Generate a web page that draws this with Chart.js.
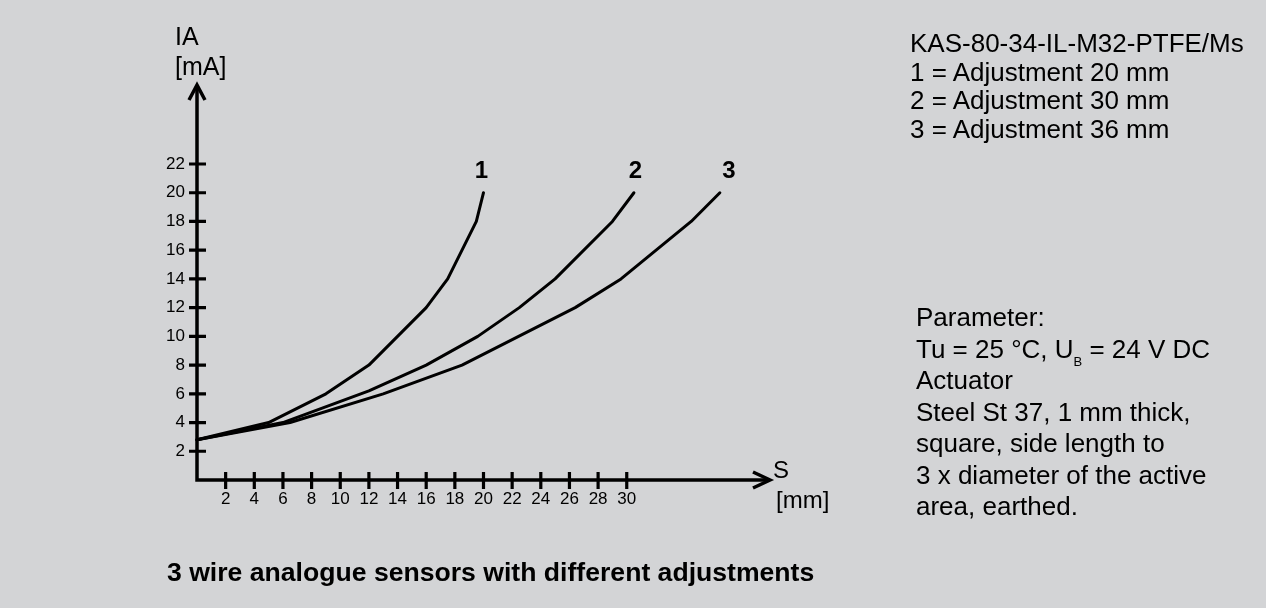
<!DOCTYPE html>
<html>
<head>
<meta charset="utf-8">
<script src="https://cdn.jsdelivr.net/npm/chart.js@4/dist/chart.umd.min.js"></script>
<style>
  html, body { margin: 0; padding: 0; background: #d3d4d6; }
  body { width: 1266px; height: 608px; position: relative; overflow: hidden;
         font-family: "Liberation Sans", Arial, sans-serif; color: #000; }
  #wrap { position: absolute; left: 0; top: 0; width: 1266px; height: 608px; }
  .note { position: absolute; font-size: 26px; white-space: nowrap; }
  #typeNote { left: 910px; top: 29px; line-height: 28.7px; }
  #paramNote { left: 916px; top: 302px; line-height: 31.5px; }
  #caption { left: 167px; top: 557px; line-height: 30px; font-weight: bold; font-size: 26.6px; }
  sub { font-size: 13px; vertical-align: -8px; line-height: 0; }
</style>
</head>
<body>
<div id="wrap"><canvas id="chart"></canvas></div>

<div class="note" id="typeNote">
  KAS-80-34-IL-M32-PTFE/Ms<br>
  1 = Adjustment 20 mm<br>
  2 = Adjustment 30 mm<br>
  3 = Adjustment 36 mm
</div>
<div class="note" id="paramNote">
  Parameter:<br>
  Tu = 25 °C, U<sub>B</sub> = 24 V DC<br>
  Actuator<br>
  Steel St 37, 1 mm thick,<br>
  square, side length to<br>
  3 x diameter of the active<br>
  area, earthed.
</div>
<div class="note" id="caption">3 wire analogue sensors with different adjustments</div>

<script>
// axis ticks (S in mm, IA in mA)
const sTicks = [2, 4, 6, 8, 10, 12, 14, 16, 18, 20, 22, 24, 26, 28, 30];
const iaTicks = [2, 4, 6, 8, 10, 12, 14, 16, 18, 20, 22];

// curve names
const curveNames = ['1', '2', '3'];

// curve 1 - adjustment 20 mm
const s1 = [0, 5, 9, 12, 14, 16, 17.5, 19.5, 20];
const ia1 = [2.8, 4, 6, 8, 10, 12, 14, 18, 20];

// curve 2 - adjustment 30 mm
const s2 = [0, 6, 12, 16, 19.6, 22.5, 25, 29, 30.5];
const ia2 = [2.8, 4, 6.2, 8, 10, 12, 14, 18, 20];

// curve 3 - adjustment 36 mm
const s3 = [0, 6.5, 13, 18.5, 26.4, 29.6, 34.5, 36.5];
const ia3 = [2.8, 4, 6, 8, 12, 14, 18, 20];

function toPoints(xs, ys) {
    return xs.map((v, i) => ({ x: v, y: ys[i] }));
}

Chart.defaults.font.family = '"Liberation Sans", Arial, sans-serif';
Chart.defaults.color = '#000';

// axes with arrows, crossing tick marks, axis titles and curve numbers
const axesPlugin = {
    id: 'axesArrows',
    afterDatasetsDraw(chart) {
        const ctx = chart.ctx;
        const x = chart.scales.x, y = chart.scales.y;
        const x0 = x.getPixelForValue(0), y0 = y.getPixelForValue(0);
        const xEnd = x.getPixelForValue(x.max), yEnd = y.getPixelForValue(y.max);

        ctx.save();
        ctx.strokeStyle = '#000';
        ctx.lineWidth = 3.5;
        ctx.lineJoin = 'miter';

        // axis lines
        ctx.beginPath();
        ctx.moveTo(x0, yEnd + 2);
        ctx.lineTo(x0, y0);
        ctx.lineTo(xEnd - 2, y0);
        ctx.stroke();

        // arrow heads
        ctx.beginPath();
        ctx.moveTo(x0 - 8, yEnd + 15);
        ctx.lineTo(x0, yEnd);
        ctx.lineTo(x0 + 8, yEnd + 15);
        ctx.moveTo(xEnd - 17, y0 - 8);
        ctx.lineTo(xEnd, y0);
        ctx.lineTo(xEnd - 17, y0 + 8);
        ctx.stroke();

        // tick marks across the axes
        ctx.lineWidth = 3.2;
        ctx.beginPath();
        iaTicks.forEach(v => {
            const py = y.getPixelForValue(v);
            ctx.moveTo(x0 - 8, py);
            ctx.lineTo(x0 + 9, py);
        });
        sTicks.forEach(v => {
            const px = x.getPixelForValue(v);
            ctx.moveTo(px, y0 - 8);
            ctx.lineTo(px, y0 + 9);
        });
        ctx.stroke();

        // axis titles
        ctx.fillStyle = '#000';
        ctx.textAlign = 'left';
        ctx.textBaseline = 'alphabetic';
        ctx.font = '25px "Liberation Sans", Arial, sans-serif';
        ctx.fillText('IA', x0 - 22, yEnd - 40);
        ctx.fillText('[mA]', x0 - 22, yEnd - 10);
        ctx.font = '24px "Liberation Sans", Arial, sans-serif';
        ctx.fillText('S', xEnd + 3, y0 - 2);
        ctx.fillText('[mm]', xEnd + 6, y0 + 28);

        // curve numbers above the end of each curve
        ctx.font = 'bold 24px "Liberation Sans", Arial, sans-serif';
        ctx.textAlign = 'center';
        chart.data.datasets.forEach((ds, i) => {
            const meta = chart.getDatasetMeta(i);
            const last = meta.data[meta.data.length - 1];
            ctx.fillText(ds.label, last.x + (ds.labelDx || 0), last.y - 15);
        });
        ctx.restore();
    }
};

const lineStyle = {
    borderColor: '#000',
    borderWidth: 3,
    pointRadius: 0,
    tension: 0,
    fill: false,
    borderJoinStyle: 'round',
    borderCapStyle: 'round',
    clip: false
};

new Chart(document.getElementById('chart'), {
    type: 'line',
    data: {
        datasets: [
            Object.assign({ label: curveNames[0], data: toPoints(s1, ia1), labelDx: -2 }, lineStyle),
            Object.assign({ label: curveNames[1], data: toPoints(s2, ia2), labelDx: 1.5 }, lineStyle),
            Object.assign({ label: curveNames[2], data: toPoints(s3, ia3), labelDx: 9 }, lineStyle)
        ]
    },
    options: {
        responsive: true,
        maintainAspectRatio: false,
        animation: false,
        events: [],
        layout: {
            padding: { top: 85, right: 496, bottom: 0, left: 0 }
        },
        plugins: {
            legend: { display: false },
            tooltip: { enabled: false },
            title: { display: false }
        },
        scales: {
            x: {
                type: 'linear',
                min: 0,
                max: 40,
                grid: { display: false, drawTicks: false },
                border: { display: false },
                ticks: { font: { size: 17 }, color: '#000', padding: 9, maxRotation: 0, autoSkip: false },
                afterBuildTicks: axis => { axis.ticks = sTicks.map(v => ({ value: v })); },
                afterFit: axis => { axis.height = 128; }
            },
            y: {
                type: 'linear',
                min: 0,
                max: 27.5,
                grid: { display: false, drawTicks: false },
                border: { display: false },
                ticks: { font: { size: 17 }, color: '#000', padding: 12, autoSkip: false },
                afterBuildTicks: axis => { axis.ticks = iaTicks.map(v => ({ value: v })); },
                afterFit: axis => { axis.width = 197; }
            }
        }
    },
    plugins: [axesPlugin]
});
</script>
</body>
</html>
